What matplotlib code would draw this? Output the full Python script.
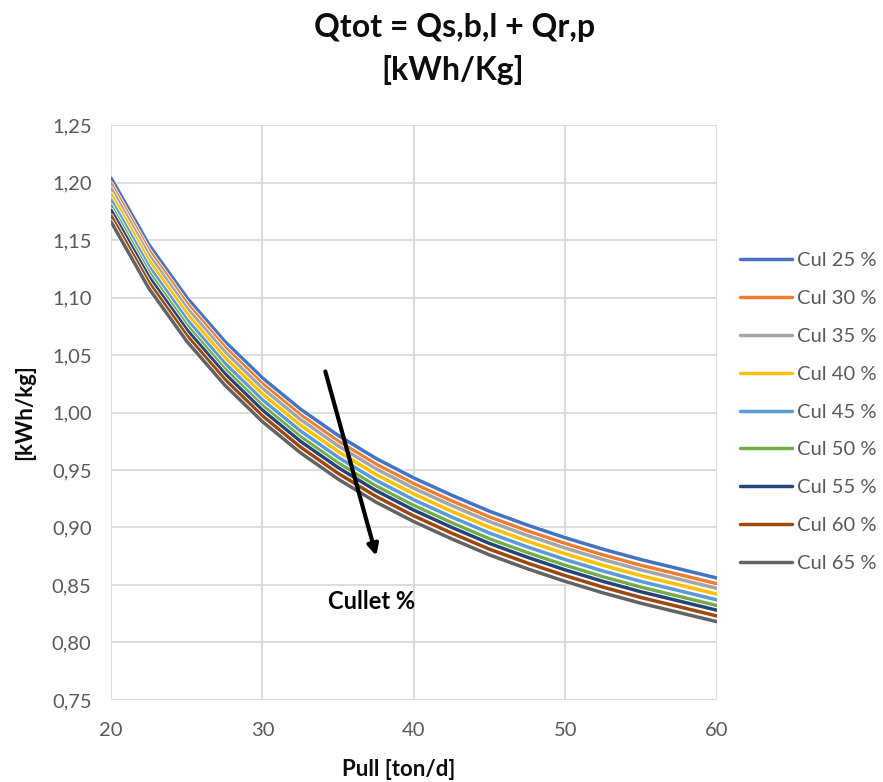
import matplotlib
matplotlib.use("Agg")
import matplotlib.pyplot as plt
import matplotlib.patheffects as pe
from matplotlib.ticker import FuncFormatter, MultipleLocator

plt.rcParams['font.family'] = ['Lato', 'DejaVu Sans']

pull = [20, 22.5, 25, 27.5, 30, 32.5, 35, 37.5, 40, 42.5, 45, 47.5, 50, 52.5, 55, 57.5, 60]
series_names = ["Cul 25 %", "Cul 30 %", "Cul 35 %", "Cul 40 %", "Cul 45 %",
                "Cul 50 %", "Cul 55 %", "Cul 60 %", "Cul 65 %"]
cul25 = [1.204, 1.146, 1.100, 1.062, 1.030, 1.003, 0.980, 0.960, 0.943, 0.928, 0.914, 0.902, 0.891, 0.881, 0.872, 0.864, 0.856]
cul30 = [1.199, 1.141, 1.095, 1.057, 1.025, 0.998, 0.975, 0.955, 0.938, 0.923, 0.909, 0.897, 0.886, 0.876, 0.867, 0.859, 0.851]
cul35 = [1.195, 1.137, 1.091, 1.053, 1.021, 0.994, 0.971, 0.951, 0.934, 0.919, 0.905, 0.893, 0.882, 0.872, 0.863, 0.855, 0.847]
cul40 = [1.190, 1.132, 1.086, 1.048, 1.016, 0.989, 0.966, 0.946, 0.929, 0.914, 0.900, 0.888, 0.877, 0.867, 0.858, 0.850, 0.842]
cul45 = [1.185, 1.127, 1.081, 1.043, 1.011, 0.984, 0.961, 0.941, 0.924, 0.909, 0.895, 0.883, 0.872, 0.862, 0.853, 0.845, 0.837]
cul50 = [1.180, 1.122, 1.076, 1.038, 1.006, 0.979, 0.956, 0.936, 0.919, 0.904, 0.890, 0.878, 0.867, 0.857, 0.848, 0.840, 0.832]
cul55 = [1.176, 1.118, 1.072, 1.034, 1.002, 0.975, 0.952, 0.932, 0.915, 0.900, 0.886, 0.874, 0.863, 0.853, 0.844, 0.836, 0.828]
cul60 = [1.171, 1.113, 1.067, 1.029, 0.997, 0.970, 0.947, 0.927, 0.910, 0.895, 0.881, 0.869, 0.858, 0.848, 0.839, 0.831, 0.823]
cul65 = [1.166, 1.108, 1.062, 1.024, 0.992, 0.965, 0.942, 0.922, 0.905, 0.890, 0.876, 0.864, 0.853, 0.843, 0.834, 0.826, 0.818]
all_series = [cul25, cul30, cul35, cul40, cul45, cul50, cul55, cul60, cul65]
colors = ["#4472C4", "#ED7D31", "#A5A5A5", "#FFC000", "#5B9BD5",
          "#70AD47", "#264478", "#9E480E", "#636363"]

fig = plt.figure(figsize=(8.83, 7.82), dpi=100)
ax = fig.add_axes([0.1257, 0.105, 0.6863, 0.735])

for vals, name, c in zip(all_series, series_names, colors):
    ax.plot(pull, vals, color=c, lw=2.5, label=name, solid_capstyle='round',
            path_effects=[pe.Stroke(linewidth=3.7, foreground='white'), pe.Normal()])

ax.set_xlim(20, 60)
ax.set_ylim(0.75, 1.25)
ax.xaxis.set_major_locator(MultipleLocator(10))
ax.yaxis.set_major_locator(MultipleLocator(0.05))
ax.yaxis.set_major_formatter(FuncFormatter(lambda v, p: f"{v:.2f}".replace('.', ',')))
ax.xaxis.set_major_formatter(FuncFormatter(lambda v, p: f"{v:.0f}"))
ax.grid(True, color="#D9D9D9", lw=1.3)
ax.set_axisbelow(True)
for s in ax.spines.values():
    s.set_visible(False)
ax.tick_params(axis='y', length=0, labelsize=14.5, labelcolor="#595959", pad=14)
ax.tick_params(axis='x', length=0, labelsize=14.5, labelcolor="#595959", pad=16)

fig.text(0.4515, 1 - 770 / 782, "Pull [ton/d]", ha='center', va='center',
         fontsize=16, fontweight='bold', color="#0D0D0D")
fig.text(25 / 883, 1 - 412 / 782, "[kWh/kg]", ha='center', va='center', rotation=90,
         fontsize=16, fontweight='bold', color="#0D0D0D")

fig.text(0.515, 1 - 28 / 782, "Qtot = Qs,b,l + Qr,p", ha='center', va='center',
         fontsize=23, fontweight='bold', color="#0D0D0D")
fig.text(0.513, 1 - 70 / 782, "[kWh/Kg]", ha='center', va='center',
         fontsize=23, fontweight='bold', color="#0D0D0D")

ax.annotate("", xy=(37.56, 0.873), xytext=(34.1, 1.038),
            arrowprops=dict(arrowstyle="-|>", color="black", lw=3, mutation_scale=16))
ax.text(37.2, 0.836, "Cullet %", ha='center', va='center', fontsize=17,
        fontweight='bold', color="black")

leg = fig.legend(loc='center left', bbox_to_anchor=(740 / 883, 1 - 412 / 782), frameon=False,
                 fontsize=14.5, handlelength=2.6, labelspacing=1.03, handletextpad=0.25,
                 borderpad=0, borderaxespad=0)
for t in leg.get_texts():
    t.set_color("#595959")

fig.savefig("out.png", dpi=100)
